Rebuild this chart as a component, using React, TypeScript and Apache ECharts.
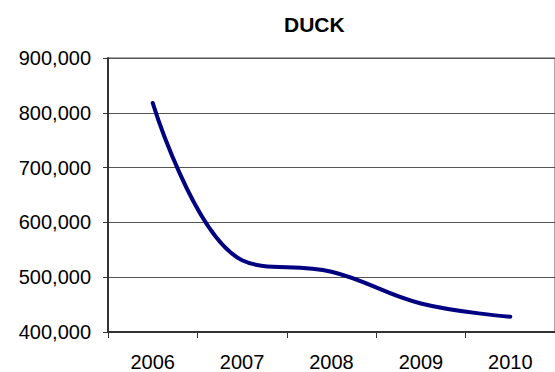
import React, { useEffect, useRef } from "react";
import * as echarts from "echarts";

const categories = ["2006", "2007", "2008", "2009", "2010"];
const duckValues = [818000, 531000, 510000, 452000, 428000];
const yTicks = { min: 400000, max: 900000, interval: 100000 };
const title = "DUCK";

export default function App() {
  const ref = useRef<HTMLDivElement>(null);
  useEffect(() => {
    if (!ref.current) return;
    const chart = echarts.init(ref.current, null, { renderer: "svg" });
    const font = "Liberation Sans, Arial, sans-serif";
    chart.setOption({
      animation: false,
      backgroundColor: "#ffffff",
      title: {
        text: title,
        left: 279,
        top: 9,
        textStyle: { fontFamily: font, fontWeight: "bold", fontSize: 21, color: "#000" },
      },
      grid: {
        left: 108,
        top: 58,
        width: 452,
        height: 275,
        show: true,
        borderColor: "#8a8a8a",
        borderWidth: 1.5,
        containLabel: false,
      },
      xAxis: {
        type: "category",
        data: categories,
        boundaryGap: true,
        axisLine: { show: true, lineStyle: { color: "#333", width: 2 } },
        axisTick: { show: true, length: 6, lineStyle: { color: "#333", width: 1 } },
        axisLabel: {
          fontFamily: font,
          fontSize: 20,
          color: "#000",
          margin: 20,
          lineHeight: 20,
        },
        splitLine: { show: false },
      },
      yAxis: {
        type: "value",
        min: yTicks.min,
        max: yTicks.max,
        interval: yTicks.interval,
        axisLine: { show: true, lineStyle: { color: "#333", width: 2 } },
        axisTick: { show: true, length: 5, lineStyle: { color: "#333", width: 1 } },
        axisLabel: {
          fontFamily: font,
          fontSize: 20,
          color: "#000",
          margin: 17,
          formatter: (v: number) => v.toLocaleString("en-US"),
        },
        splitLine: { show: true, lineStyle: { color: "#555", width: 1 } },
      },
      series: [
        {
          type: "line",
          name: title,
          data: duckValues,
          smooth: 0.4,
          symbol: "none",
          lineStyle: { color: "#000080", width: 4, cap: "round", join: "round" },
        },
      ],
    });
    return () => chart.dispose();
  }, []);
  return <div ref={ref} style={{ width: 555, height: 372, position: "absolute", left: 0, top: 0 }} />;
}
